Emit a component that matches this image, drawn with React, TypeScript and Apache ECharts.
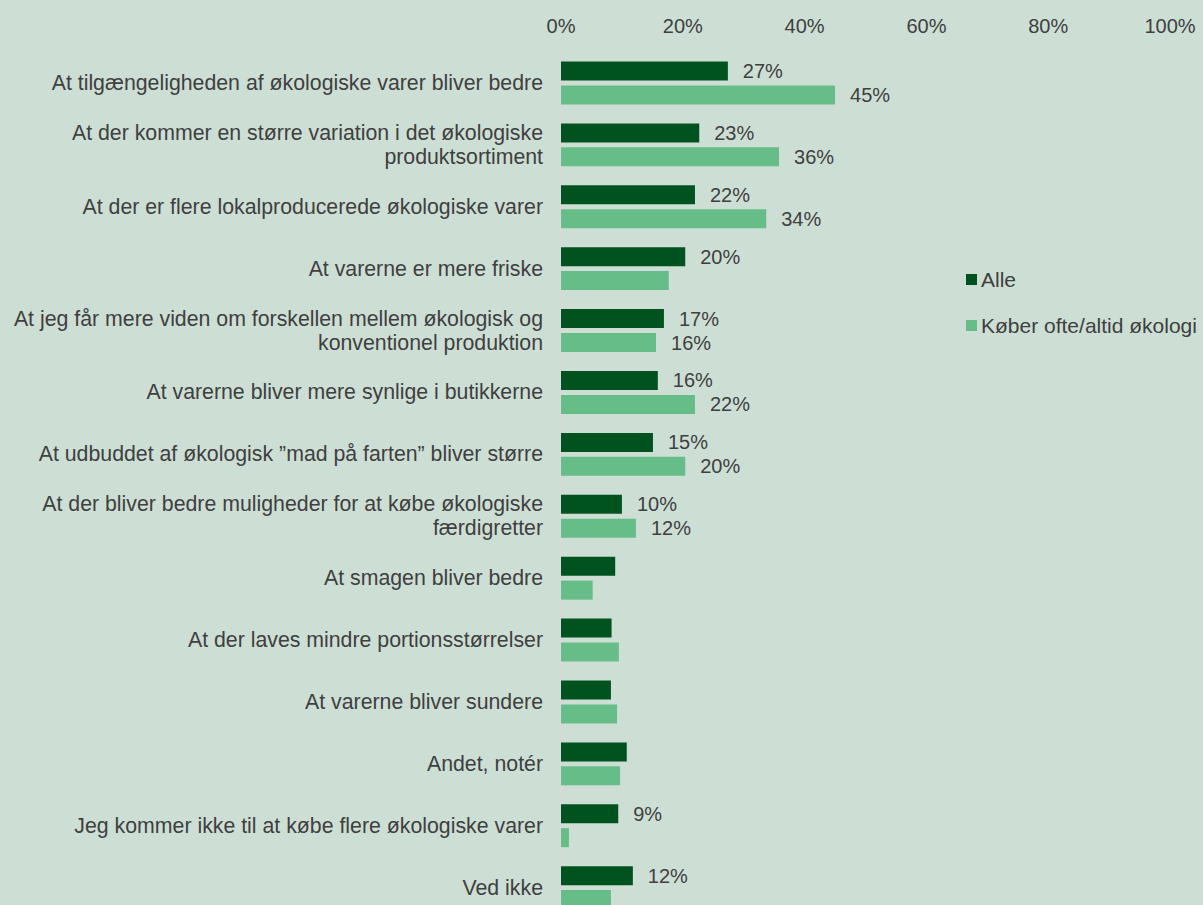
import React, { useEffect, useRef } from "react";
import * as echarts from "echarts";

const categories = [
  "At tilgængeligheden af økologiske varer bliver bedre",
  "At der kommer en større variation i det økologiske\nproduktsortiment",
  "At der er flere lokalproducerede økologiske varer",
  "At varerne er mere friske",
  "At jeg får mere viden om forskellen mellem økologisk og\nkonventionel produktion",
  "At varerne bliver mere synlige i butikkerne",
  "At udbuddet af økologisk ”mad på farten” bliver større",
  "At der bliver bedre muligheder for at købe økologiske\nfærdigretter",
  "At smagen bliver bedre",
  "At der laves mindre portionsstørrelser",
  "At varerne bliver sundere",
  "Andet, notér",
  "Jeg kommer ikke til at købe flere økologiske varer",
  "Ved ikke",
];

const alleValues = [27.4, 22.7, 22.0, 20.4, 16.9, 15.9, 15.1, 10.0, 8.9, 8.3, 8.2, 10.8, 9.4, 11.8];
const alleLabelShown = [true, true, true, true, true, true, true, true, false, false, false, false, true, true];

const koeberValues = [45.0, 35.8, 33.7, 17.7, 15.6, 22.0, 20.4, 12.3, 5.2, 9.5, 9.2, 9.7, 1.3, 8.2];
const koeberLabelShown = [true, true, true, false, true, true, true, true, false, false, false, false, false, false];

const seriesNames = ["Alle", "Køber ofte/altid økologi"];
const xTicks = [0, 20, 40, 60, 80, 100];

const TEXT = "#404040";
const FONT = "Liberation Sans, Arial, sans-serif";

export default function App() {
  const ref = useRef<HTMLDivElement>(null);
  useEffect(() => {
    if (!ref.current) return;
    const chart = echarts.init(ref.current, null, { renderer: "svg" });
    const mkData = (vals: number[], shown: boolean[]) =>
      vals.map((v, i) => ({ value: v, label: { show: shown[i] } }));
    const labelCfg = {
      position: "right",
      distance: 15,
      fontSize: 20,
      color: TEXT,
      fontFamily: FONT,
      formatter: (p: any) => Math.round(p.value) + "%",
    };
    chart.setOption({
      animation: false,
      backgroundColor: "#cddfd5",
      textStyle: { fontFamily: FONT, color: TEXT },
      legend: {
        orient: "vertical",
        left: 966,
        top: 269,
        padding: 0,
        itemWidth: 11,
        itemHeight: 11,
        itemGap: 25,
        icon: "rect",
        data: seriesNames,
        textStyle: { fontSize: 21, color: TEXT, fontFamily: FONT, padding: [0, 0, 0, -1] },
      },
      grid: { left: 561, top: 52, width: 609, height: 866.6, containLabel: false },
      xAxis: {
        type: "value",
        position: "top",
        min: xTicks[0],
        max: xTicks[xTicks.length - 1],
        interval: 20,
        axisLine: { show: false },
        axisTick: { show: false },
        splitLine: { show: false },
        axisLabel: {
          formatter: "{value}%",
          fontSize: 20,
          color: TEXT,
          fontFamily: FONT,
          margin: 16,
        },
      },
      yAxis: {
        type: "category",
        inverse: true,
        data: categories,
        axisLine: { show: true, lineStyle: { color: "#d9d9d9", width: 2 } },
        axisTick: { show: false },
        axisLabel: {
          fontSize: 21.3,
          color: TEXT,
          fontFamily: FONT,
          margin: 18,
          lineHeight: 24,
          align: "right",
          padding: [3, 0, 0, 0],
        },
      },
      series: [
        {
          name: seriesNames[0],
          type: "bar",
          data: mkData(alleValues, alleLabelShown),
          barWidth: 19,
          barGap: "26%",
          itemStyle: { color: "#00531f" },
          label: labelCfg,
        },
        {
          name: seriesNames[1],
          type: "bar",
          data: mkData(koeberValues, koeberLabelShown),
          barWidth: 19,
          barGap: "26%",
          itemStyle: { color: "#66bd87" },
          label: labelCfg,
        },
      ],
    });
    return () => chart.dispose();
  }, []);
  return (
    <div
      ref={ref}
      style={{ position: "fixed", left: 0, top: 0, width: 1203, height: 930 }}
    />
  );
}
